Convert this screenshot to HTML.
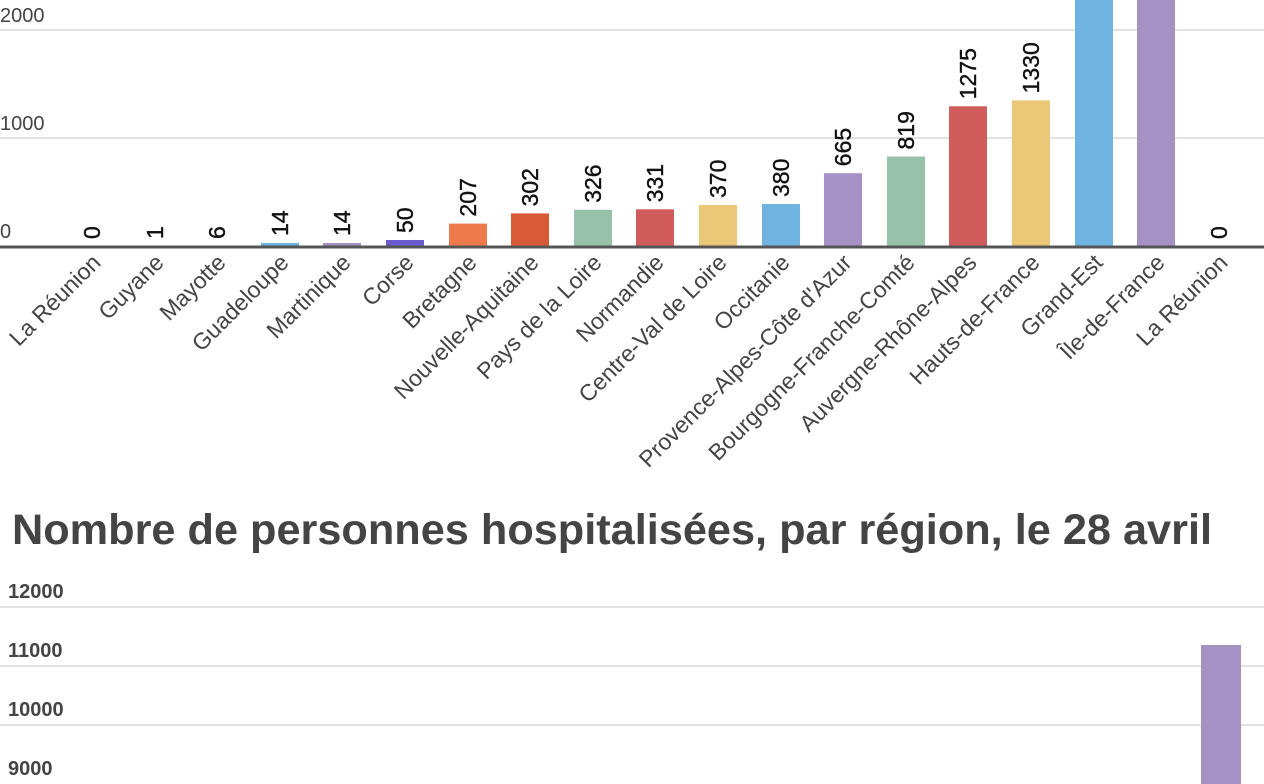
<!DOCTYPE html>
<html><head><meta charset="utf-8"><style>
html,body{margin:0;padding:0;background:#fff;width:1264px;height:784px;overflow:hidden}
svg{display:block;font-family:"Liberation Sans",sans-serif}
</style></head><body>
<svg width="1264" height="784" viewBox="0 0 1264 784">
<g stroke="#d9d9d9" stroke-width="1.5">
<line x1="0" y1="30" x2="1264" y2="30"/><line x1="0" y1="138" x2="1264" y2="138"/>
<line x1="0" y1="607" x2="1264" y2="607"/><line x1="0" y1="666" x2="1264" y2="666"/><line x1="0" y1="725" x2="1264" y2="725"/>
</g>
<g fill="#444" font-size="20">
<text x="0" y="22">2000</text><text x="0" y="130">1000</text><text x="0" y="238">0</text>
</g>
<g>
<rect x="261" y="243" width="38" height="3" fill="#6fb3e0"/>
<rect x="323" y="243" width="38" height="3" fill="#a591c4"/>
<rect x="386" y="240" width="38" height="6" fill="#6a5acd"/>
<rect x="449" y="223.6" width="38" height="22.4" fill="#ee7a4b"/>
<rect x="511" y="213.4" width="38" height="32.6" fill="#d95b36"/>
<rect x="574" y="209.8" width="38" height="36.2" fill="#97c1a9"/>
<rect x="636" y="209.3" width="38" height="36.7" fill="#d15c5c"/>
<rect x="699" y="205" width="38" height="41" fill="#ebc877"/>
<rect x="762" y="204" width="38" height="42" fill="#6fb3e0"/>
<rect x="824" y="173.2" width="38" height="72.8" fill="#a591c4"/>
<rect x="887" y="156.5" width="38" height="89.5" fill="#97c1a9"/>
<rect x="949" y="106.3" width="38" height="139.7" fill="#d15c5c"/>
<rect x="1012" y="100.4" width="38" height="145.6" fill="#ebc877"/>
<rect x="1075" y="0" width="38" height="246" fill="#6fb3e0"/>
<rect x="1137" y="0" width="38" height="246" fill="#a591c4"/>
</g>
<line x1="0" y1="247" x2="1264" y2="247" stroke="#555" stroke-width="3"/>
<g font-size="23" fill="#111" stroke="#111" stroke-width="0.4">
<text transform="translate(100,239) rotate(-90)">0</text>
<text transform="translate(163,239) rotate(-90)">1</text>
<text transform="translate(225,239) rotate(-90)">6</text>
<text transform="translate(288,236) rotate(-90)">14</text>
<text transform="translate(350,236) rotate(-90)">14</text>
<text transform="translate(413,233) rotate(-90)">50</text>
<text transform="translate(476,216.6) rotate(-90)">207</text>
<text transform="translate(538,206.4) rotate(-90)">302</text>
<text transform="translate(601,202.8) rotate(-90)">326</text>
<text transform="translate(663,202.3) rotate(-90)">331</text>
<text transform="translate(726,198) rotate(-90)">370</text>
<text transform="translate(789,197) rotate(-90)">380</text>
<text transform="translate(851,166.2) rotate(-90)">665</text>
<text transform="translate(914,149.5) rotate(-90)">819</text>
<text transform="translate(976,99.3) rotate(-90)">1275</text>
<text transform="translate(1039,93.4) rotate(-90)">1330</text>
<text transform="translate(1227,239) rotate(-90)">0</text>
</g>
<g font-size="23" fill="#444" text-anchor="end">
<text transform="translate(102,264) rotate(-45)">La Réunion</text>
<text transform="translate(165,264) rotate(-45)">Guyane</text>
<text transform="translate(227,264) rotate(-45)">Mayotte</text>
<text transform="translate(290,264) rotate(-45)">Guadeloupe</text>
<text transform="translate(352,264) rotate(-45)">Martinique</text>
<text transform="translate(415,264) rotate(-45)">Corse</text>
<text transform="translate(478,264) rotate(-45)">Bretagne</text>
<text transform="translate(540,264) rotate(-45)">Nouvelle-Aquitaine</text>
<text transform="translate(603,264) rotate(-45)">Pays de la Loire</text>
<text transform="translate(665,264) rotate(-45)">Normandie</text>
<text transform="translate(728,264) rotate(-45)">Centre-Val de Loire</text>
<text transform="translate(791,264) rotate(-45)">Occitanie</text>
<text transform="translate(853,264) rotate(-45)">Provence-Alpes-Côte d'Azur</text>
<text transform="translate(916,264) rotate(-45)">Bourgogne-Franche-Comté</text>
<text transform="translate(978,264) rotate(-45)">Auvergne-Rhône-Alpes</text>
<text transform="translate(1041,264) rotate(-45)">Hauts-de-France</text>
<text transform="translate(1104,264) rotate(-45)">Grand-Est</text>
<text transform="translate(1166,264) rotate(-45)">Île-de-France</text>
<text transform="translate(1229,264) rotate(-45)">La Réunion</text>
</g>
<text x="12" y="544" font-size="43" font-weight="bold" fill="#444" textLength="1200" lengthAdjust="spacingAndGlyphs">Nombre de personnes hospitalisées, par région, le 28 avril</text>
<g fill="#444" font-size="20" font-weight="bold">
<text x="8" y="598">12000</text><text x="8" y="657">11000</text><text x="8" y="716">10000</text><text x="8" y="775">9000</text>
</g>
<rect x="1201" y="645" width="40" height="140" fill="#a591c4"/>
</svg>
</body></html>
